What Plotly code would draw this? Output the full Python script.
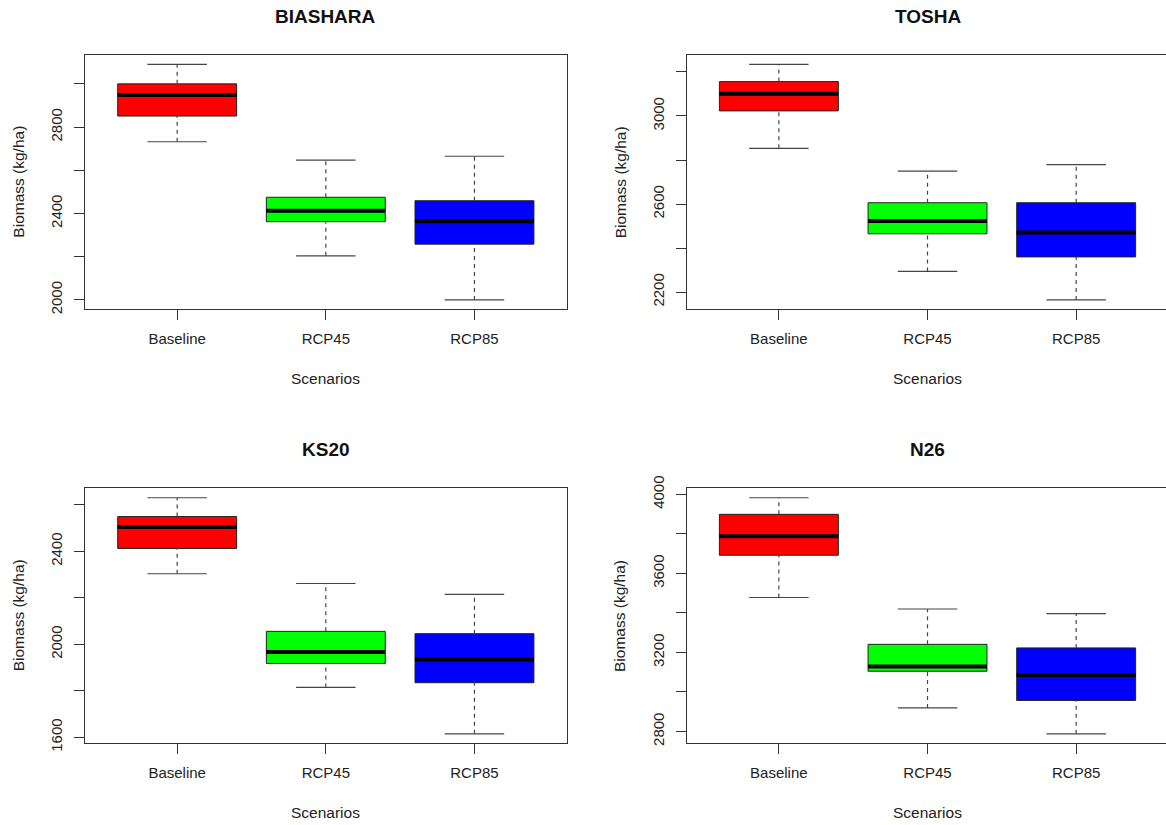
import math
import plotly.graph_objects as go

# Scenario categories and sites
scenarios = ["Baseline", "RCP45", "RCP85"]
sites = ["BIASHARA", "TOSHA", "KS20", "N26"]
box_colors = ["#FF0000", "#00FF00", "#0000FF"]

# Five-number summaries of simulated biomass (kg/ha), one list per site,
# ordered Baseline, RCP45, RCP85
whisker_low = {
    "BIASHARA": [2732, 2204, 2000],
    "TOSHA": [2853, 2294, 2165],
    "KS20": [2304, 1815, 1615],
    "N26": [3478, 2919, 2788],
}
q1 = {
    "BIASHARA": [2851, 2362, 2258],
    "TOSHA": [3023, 2465, 2360],
    "KS20": [2413, 1918, 1835],
    "N26": [3692, 3105, 2957],
}
median = {
    "BIASHARA": [2948, 2413, 2364],
    "TOSHA": [3101, 2523, 2471],
    "KS20": [2505, 1967, 1935],
    "N26": [3788, 3129, 3086],
}
q3 = {
    "BIASHARA": [3000, 2475, 2459],
    "TOSHA": [3156, 2606, 2606],
    "KS20": [2550, 2056, 2046],
    "N26": [3899, 3241, 3223],
}
whisker_high = {
    "BIASHARA": [3090, 2647, 2665],
    "TOSHA": [3234, 2750, 2779],
    "KS20": [2631, 2262, 2215],
    "N26": [3983, 3420, 3397],
}

TICK_STEP = 200
W, H = 1166, 825
FONT = "Liberation Sans, Arial, sans-serif"
INK = "#333333"

# panel geometry in pixels: (left, top, right, bottom)
px_per_unit = 148.65
panels = [
    (85.0, 55.0, 85.0 + 3.24 * px_per_unit, 309.3),
    (686.7, 55.0, W, 309.3),
    (85.0, 488.3, 85.0 + 3.24 * px_per_unit, 743.3),
    (686.7, 488.3, W, 743.3),
]

fig = go.Figure()
box_w = 0.8
cap_half = 0.2

for i, site in enumerate(sites):
    ax = "" if i == 0 else str(i + 1)
    xref, yref = "x" + ax, "y" + ax
    xs = [1, 2, 3]

    for j in range(3):
        fig.add_trace(go.Box(
            x=[xs[j]], q1=[q1[site][j]], median=[median[site][j]], q3=[q3[site][j]],
            lowerfence=[q1[site][j]], upperfence=[q3[site][j]],
            width=box_w, whiskerwidth=0, fillcolor=box_colors[j],
            line=dict(color="#222222", width=1), boxpoints=False,
            showlegend=False, hoverinfo="skip", xaxis=xref, yaxis=yref,
        ))

    # dashed whiskers
    wx, wy = [], []
    for j in range(3):
        wx += [xs[j], xs[j], None, xs[j], xs[j], None]
        wy += [q3[site][j], whisker_high[site][j], None,
               whisker_low[site][j], q1[site][j], None]
    fig.add_trace(go.Scatter(x=wx, y=wy, mode="lines",
                             line=dict(color="#444444", width=1.2, dash="4px,4px"),
                             showlegend=False, hoverinfo="skip", xaxis=xref, yaxis=yref))
    # staples
    cx, cy = [], []
    for j in range(3):
        for v in (whisker_high[site][j], whisker_low[site][j]):
            cx += [xs[j] - cap_half, xs[j] + cap_half, None]
            cy += [v, v, None]
    fig.add_trace(go.Scatter(x=cx, y=cy, mode="lines",
                             line=dict(color="#444444", width=1.2),
                             showlegend=False, hoverinfo="skip", xaxis=xref, yaxis=yref))
    # thick medians
    mx, my = [], []
    for j in range(3):
        mx += [xs[j] - box_w / 2, xs[j] + box_w / 2, None]
        my += [median[site][j], median[site][j], None]
    fig.add_trace(go.Scatter(x=mx, y=my, mode="lines",
                             line=dict(color="#000000", width=4),
                             showlegend=False, hoverinfo="skip", xaxis=xref, yaxis=yref))

    # axes
    left, top, right, bottom = panels[i]
    lo = min(whisker_low[site])
    hi = max(whisker_high[site])
    pad = 0.04 * (hi - lo)
    y0, y1 = lo - pad, hi + pad
    tv = list(range(int(math.ceil(y0 / TICK_STEP) * TICK_STEP), int(y1) + 1, TICK_STEP))
    tt = [str(v) if k % 2 == 0 else "" for k, v in enumerate(tv)]
    x_hi = 0.38 + (right - left) / px_per_unit

    fig.layout["xaxis" + ax] = dict(
        domain=[left / W, right / W], anchor=yref, range=[0.38, x_hi],
        tickvals=xs, ticktext=scenarios, ticks="outside", ticklen=10,
        tickcolor=INK, showline=True, mirror=True, linecolor=INK, linewidth=1,
        showgrid=False, zeroline=False, ticklabelstandoff=6, automargin=False,
        tickfont=dict(family=FONT, size=15, color="#222222"),
    )
    fig.layout["yaxis" + ax] = dict(
        domain=[1 - bottom / H, 1 - top / H], anchor=xref, range=[y0, y1],
        tickvals=tv, ticktext=tt, tickangle=-90, ticks="outside", ticklen=10,
        tickcolor=INK, showline=True, mirror=True, linecolor=INK, linewidth=1,
        showgrid=False, zeroline=False, ticklabelstandoff=6, automargin=False,
        tickfont=dict(family=FONT, size=15, color="#222222"),
    )

    mid_x = (left + (left + 3.24 * px_per_unit)) / 2
    fig.add_annotation(text="<b>" + site + "</b>", x=mid_x / W, y=1 - (top - 38.3) / H,
                       xref="paper", yref="paper", showarrow=False,
                       xanchor="center", yanchor="middle",
                       font=dict(family=FONT, size=19, color="#111111"))
    fig.add_annotation(text="Scenarios", x=mid_x / W, y=1 - (bottom + 68.7) / H,
                       xref="paper", yref="paper", showarrow=False,
                       xanchor="center", yanchor="middle",
                       font=dict(family=FONT, size=15.5, color="#222222"))
    fig.add_annotation(text="Biomass (kg/ha)", x=(left - 66.5) / W,
                       y=1 - (top + bottom) / 2 / H,
                       xref="paper", yref="paper", showarrow=False, textangle=-90,
                       xanchor="center", yanchor="middle",
                       font=dict(family=FONT, size=15.5, color="#222222"))

fig.update_layout(
    width=W, height=H, margin=dict(l=0, r=0, t=0, b=0),
    paper_bgcolor="white", plot_bgcolor="white", boxmode="overlay",
)

fig.write_html("out.html")
